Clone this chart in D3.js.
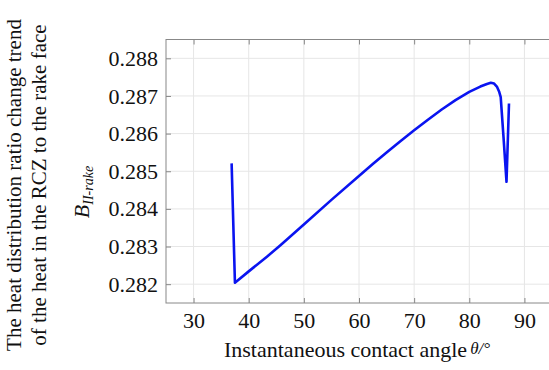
<!DOCTYPE html>
<html>
<head>
<meta charset="utf-8">
<script src="https://cdn.jsdelivr.net/npm/d3@7"></script>
<style>
  body { margin: 0; background: #fff; }
  svg text { font-family: "Liberation Serif", "Times New Roman", serif; fill: #111; }
</style>
</head>
<body>
<div id="chart"></div>
<script>
// Data
var theta = [36.9, 37.5, 40, 43.3, 45.7, 50.2, 55, 60.2, 62.5, 65, 67.5, 70, 72.5, 75, 77.5, 80, 82, 83.2, 83.9, 84.5, 85.0, 85.4, 85.7, 86.2, 86.75, 87.2];
var ratio = [0.28521, 0.28204, 0.28234, 0.28273, 0.28303, 0.28361, 0.28424, 0.28490, 0.28519, 0.28550, 0.28580, 0.28609, 0.28637, 0.28664, 0.28689, 0.28711, 0.28725, 0.28732, 0.28735, 0.28733, 0.28725, 0.28712, 0.28697, 0.28592, 0.28472, 0.28680];
var xTicks = [30, 40, 50, 60, 70, 80, 90];
var yTicks = [0.282, 0.283, 0.284, 0.285, 0.286, 0.287, 0.288];

var W = 549, H = 370;
var margin = {top: 39.5, right: -3, bottom: 67, left: 166};

var svg = d3.select("#chart").append("svg")
  .attr("width", W)
  .attr("height", H);

var x = d3.scaleLinear().domain([25, 95]).range([margin.left, W - margin.right]);
var y = d3.scaleLinear().domain([0.2815, 0.2885]).range([H - margin.bottom, margin.top]);

var data = theta.map(function(t, i) { return {t: t, v: ratio[i]}; });

// grid
svg.append("g").selectAll("line.gx")
  .data(xTicks).enter().append("line")
  .attr("x1", function(d) { return x(d); })
  .attr("x2", function(d) { return x(d); })
  .attr("y1", y.range()[1])
  .attr("y2", y.range()[0])
  .style("stroke", "#e6e6e6")
  .style("stroke-width", 1);

svg.append("g").selectAll("line.gy")
  .data(yTicks).enter().append("line")
  .attr("x1", x.range()[0])
  .attr("x2", x.range()[1])
  .attr("y1", function(d) { return y(d); })
  .attr("y2", function(d) { return y(d); })
  .style("stroke", "#e6e6e6")
  .style("stroke-width", 1);

// axes (ticks inward)
var xAxis = d3.axisBottom(x).tickValues(xTicks).tickSize(-5).tickPadding(9);
var yAxis = d3.axisLeft(y).tickValues(yTicks).tickSize(-5).tickPadding(8).tickFormat(d3.format(".3f"));

var gx = svg.append("g")
  .attr("transform", "translate(0," + y.range()[0] + ")")
  .call(xAxis);
var gy = svg.append("g")
  .attr("transform", "translate(" + x.range()[0] + ",0)")
  .call(yAxis);

svg.append("g")
  .attr("transform", "translate(0," + y.range()[1] + ")")
  .call(d3.axisTop(x).tickValues(xTicks).tickSize(-5).tickFormat(""));

[gx, gy].forEach(function(g) {
  g.selectAll(".tick text").style("font-size", "22px");
});
svg.selectAll(".domain").remove();
svg.selectAll(".tick line").style("stroke", "#888");

// frame
svg.append("rect")
  .attr("x", x.range()[0])
  .attr("y", y.range()[1])
  .attr("width", x.range()[1] - x.range()[0])
  .attr("height", y.range()[0] - y.range()[1])
  .style("fill", "none")
  .style("stroke", "#888")
  .style("stroke-width", 1);

// curve
var line = d3.line()
  .x(function(d) { return x(d.t); })
  .y(function(d) { return y(d.v); });

svg.append("path")
  .datum(data)
  .attr("d", line)
  .style("fill", "none")
  .style("stroke", "#0a14f0")
  .style("stroke-width", 2.6)
  .style("stroke-linejoin", "round");

// x axis title
var xt = svg.append("text")
  .attr("x", 357)
  .attr("y", 357)
  .attr("text-anchor", "middle")
  .style("font-size", "22px");
xt.append("tspan").text("Instantaneous contact angle");
xt.append("tspan").attr("font-style", "italic").style("font-size", "17px").attr("dx", 3).attr("dy", -3).text("θ/°");

// y axis title
var yt = svg.append("g")
  .attr("transform", "translate(0,185) rotate(-90)");
yt.append("text")
  .attr("x", 0).attr("y", 21)
  .attr("text-anchor", "middle")
  .style("font-size", "21px")
  .text("The heat distribution ratio change trend");
yt.append("text")
  .attr("x", 0).attr("y", 46)
  .attr("text-anchor", "middle")
  .style("font-size", "21px")
  .text("of the heat in the RCZ to the rake face");
var b = yt.append("text")
  .attr("x", -7).attr("y", 89)
  .attr("text-anchor", "middle")
  .attr("font-style", "italic");
b.append("tspan").style("font-size", "22px").text("B");
b.append("tspan").style("font-size", "14px").attr("dy", 4).text("II-rake");
</script>
</body>
</html>
